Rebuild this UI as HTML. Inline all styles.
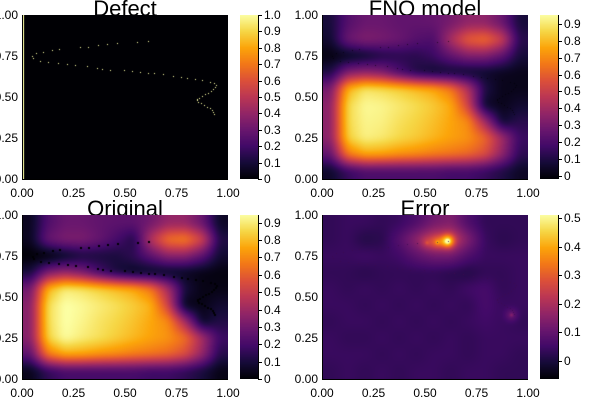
<!DOCTYPE html>
<html><head><meta charset="utf-8">
<style>
body{margin:0;background:#fff;width:600px;height:400px;overflow:hidden;font-family:"Liberation Sans","DejaVu Sans",sans-serif;}
#root{position:relative;width:600px;height:400px;}
.t{position:absolute;font-size:12px;color:#000;white-space:nowrap;line-height:12px;}
.title{position:absolute;font-size:22px;white-space:nowrap;line-height:22px;}
canvas{position:absolute;}
.ax{position:absolute;background:#000;}
</style></head>
<body><div id="root"></div>
<script>
// ---- data ----
const origGrid = [
[0.05,0.22,0.28,0.28,0.26,0.25,0.25,0.3,0.38,0.38,0.28,0.06],
[0.05,0.27,0.32,0.32,0.27,0.2,0.12,0.45,0.65,0.68,0.52,0.12],
[0.0,0.0,0.05,0.1,0.1,0.1,0.15,0.25,0.35,0.35,0.25,0.08],
[0.1,0.32,0.38,0.32,0.2,0.1,0.05,0.05,0.05,0.05,0.03,0.02],
[0.3,0.78,0.9,0.88,0.84,0.8,0.76,0.66,0.42,0.1,0.03,0.03],
[0.35,0.86,0.95,0.93,0.9,0.87,0.83,0.78,0.52,0.04,0.03,0.08],
[0.35,0.86,0.95,0.92,0.88,0.85,0.81,0.76,0.7,0.42,0.06,0.12],
[0.35,0.84,0.94,0.9,0.87,0.83,0.79,0.75,0.72,0.64,0.42,0.18],
[0.25,0.66,0.76,0.75,0.72,0.7,0.67,0.65,0.62,0.55,0.38,0.13],
[0.04,0.15,0.2,0.2,0.2,0.2,0.2,0.18,0.18,0.15,0.1,0.03]];
const fnoGrid = [
[0.08,0.22,0.27,0.27,0.25,0.25,0.26,0.3,0.36,0.36,0.27,0.08],
[0.06,0.27,0.32,0.3,0.27,0.22,0.2,0.42,0.6,0.64,0.5,0.12],
[0.0,0.02,0.05,0.1,0.12,0.12,0.16,0.25,0.32,0.32,0.24,0.08],
[0.1,0.32,0.36,0.32,0.2,0.1,0.06,0.06,0.05,0.05,0.03,0.02],
[0.3,0.78,0.89,0.87,0.84,0.8,0.76,0.66,0.44,0.1,0.02,0.02],
[0.35,0.86,0.94,0.93,0.9,0.87,0.83,0.77,0.52,0.05,0.02,0.06],
[0.35,0.86,0.93,0.92,0.88,0.85,0.81,0.76,0.7,0.4,0.06,0.12],
[0.35,0.84,0.92,0.9,0.86,0.83,0.79,0.75,0.72,0.62,0.4,0.16],
[0.25,0.66,0.76,0.75,0.72,0.7,0.67,0.65,0.62,0.55,0.36,0.13],
[0.05,0.15,0.2,0.2,0.2,0.2,0.2,0.18,0.18,0.15,0.1,0.04]];
const errGrid = [
[0.03,0.04,0.04,0.03,0.04,0.07,0.12,0.14,0.07,0.03,0.03,0.03],
[0.03,0.04,0.01,0.02,0.08,0.16,0.24,0.26,0.14,0.04,0.02,0.03],
[0.04,0.04,0.05,0.04,0.05,0.09,0.12,0.12,0.07,0.04,0.04,0.04],
[0.03,0.03,0.02,0.03,0.03,0.03,0.03,0.02,0.01,0.03,0.03,0.04],
[0.04,0.03,0.04,0.03,0.04,0.03,0.04,0.03,0.05,0.06,0.03,0.04],
[0.04,0.04,0.03,0.04,0.03,0.04,0.03,0.04,0.03,0.06,0.04,0.04],
[0.03,0.04,0.04,0.03,0.04,0.03,0.04,0.03,0.04,0.05,0.04,0.03],
[0.04,0.03,0.03,0.04,0.03,0.04,0.03,0.04,0.03,0.04,0.04,0.04],
[0.04,0.04,0.04,0.03,0.04,0.03,0.04,0.04,0.03,0.04,0.04,0.03],
[0.03,0.04,0.03,0.04,0.03,0.04,0.04,0.03,0.04,0.04,0.03,0.03]];
const errPeaksX = [0.61,0.56,0.51,0.92];
const errPeaksY = [0.84,0.833,0.83,0.39];
const errPeaksV = [0.25,0.1,0.05,0.06];
const defectX = [0.61,0.56,0.46,0.414,0.37,0.322,0.281,0.181,0.144,0.104,0.068,0.047,0.055,0.087,0.128,0.176,0.217,0.257,0.317,0.362,0.387,0.427,0.495,0.535,0.573,0.61,0.641,0.686,0.735,0.77,0.799,0.84,0.872,0.913,0.93,0.942,0.936,0.929,0.917,0.905,0.889,0.872,0.86,0.848,0.85,0.856,0.868,0.883,0.898,0.913,0.922,0.929,0.934];
const defectY = [0.839,0.833,0.827,0.821,0.815,0.807,0.803,0.795,0.787,0.774,0.766,0.752,0.736,0.722,0.715,0.709,0.703,0.695,0.687,0.679,0.673,0.667,0.663,0.659,0.654,0.648,0.644,0.638,0.63,0.624,0.618,0.612,0.606,0.593,0.583,0.573,0.56,0.547,0.536,0.526,0.516,0.506,0.496,0.486,0.479,0.472,0.462,0.452,0.441,0.431,0.421,0.411,0.397];
const axisTicks = ["0.00","0.25","0.50","0.75","1.00"];
const cbTicks1 = ["0","0.1","0.2","0.3","0.4","0.5","0.6","0.7","0.8","0.9","1.0"];
const cbTicks9 = ["0","0.1","0.2","0.3","0.4","0.5","0.6","0.7","0.8","0.9"];
const cbTicksErr = ["0","0.1","0.2","0.3","0.4","0.5"];

// ---- colormap ----
const inf=[[0,0,4],[22,11,57],[66,10,104],[106,23,110],[147,38,103],[188,55,84],[221,81,58],[243,120,25],[252,165,10],[246,215,70],[252,255,164]];
function cmap(t){t=Math.max(0,Math.min(1,t))*10;const i=Math.min(9,Math.floor(t)),f=t-i;const a=inf[i],b=inf[i+1];return [a[0]+(b[0]-a[0])*f,a[1]+(b[1]-a[1])*f,a[2]+(b[2]-a[2])*f];}
function cmapCss(t){const c=cmap(t);return `rgb(${c[0]|0},${c[1]|0},${c[2]|0})`;}
const root=document.getElementById('root');
const PW=206,PH=164;
function sample(g,x,y){const R=g.length,C=g[0].length;let cx=x*C-0.5,cy=(1-y)*R-0.5;cx=Math.max(0,Math.min(C-1,cx));cy=Math.max(0,Math.min(R-1,cy));const i=Math.min(C-2,Math.floor(cx)),j=Math.min(R-2,Math.floor(cy));const fx=cx-i,fy=cy-j;return g[j][i]*(1-fx)*(1-fy)+g[j][i+1]*fx*(1-fy)+g[j+1][i]*(1-fx)*fy+g[j+1][i+1]*fx*fy;}
function blur(f,r){const o=new Float32Array(f.length);
  for(let y=0;y<PH;y++)for(let x=0;x<PW;x++){let s=0,n=0;for(let k=-r;k<=r;k++){const xx=Math.max(0,Math.min(PW-1,x+k));s+=f[y*PW+xx];n++;}o[y*PW+x]=s/n;}
  const o2=new Float32Array(f.length);
  for(let y=0;y<PH;y++)for(let x=0;x<PW;x++){let s=0,n=0;for(let k=-r;k<=r;k++){const yy=Math.max(0,Math.min(PH-1,y+k));s+=o[yy*PW+x];n++;}o2[y*PW+x]=s/n;}
  return o2;}
function field(g){let f=new Float32Array(PW*PH);for(let py=0;py<PH;py++)for(let px=0;px<PW;px++)f[py*PW+px]=g?sample(g,(px+0.5)/PW,1-(py+0.5)/PH):0;
  if(g){f=blur(f,4);f=blur(f,3);}return f;}
function addText(txt,x,y,cls,align,name){const d=document.createElement('div');d.className=cls;d.textContent=txt;d.style.top=y+'px';


if(align==='r'){d.style.right=(600-x)+'px';}else if(align==='c'){d.style.left=x+'px';d.style.transform='translateX(-50%)';}else d.style.left=x+'px';root.appendChild(d);return d;}
function panel(ox,oy,title,f,vmin,vmax,ticks,tickStep,dotColor,dotSize,key){
  const tt=addText(title,ox+103,oy-17,'title','c',key+'-title');tt.style.zIndex=0;
  const cv=document.createElement('canvas');cv.width=PW;cv.height=PH;cv.style.left=ox+'px';cv.style.top=oy+'px';cv.style.zIndex=1;
  
  
  root.appendChild(cv);const ctx=cv.getContext('2d');const im=ctx.createImageData(PW,PH);
  for(let p=0;p<PW*PH;p++){const c=cmap((f[p]-vmin)/(vmax-vmin));im.data[p*4]=c[0];im.data[p*4+1]=c[1];im.data[p*4+2]=c[2];im.data[p*4+3]=255;}
  ctx.putImageData(im,0,0);
  if(dotColor){ctx.fillStyle=dotColor;for(let i=0;i<defectX.length;i++){ctx.fillRect(Math.round(defectX[i]*PW),Math.round((1-defectY[i])*PH),dotSize,dotSize);}}
  if(key==='defect'){ctx.fillStyle=cmapCss(1);ctx.fillRect(0,0,2,PH);}
  const la=document.createElement('div');la.className='ax';la.style.cssText+=`left:${ox}px;top:${oy}px;width:1px;height:${PH}px;z-index:2`;
  
  
  root.appendChild(la);
  const ba=document.createElement('div');ba.className='ax';ba.style.cssText+=`left:${ox}px;top:${oy+PH}px;width:${PW}px;height:1px;z-index:2`;
  
  
  root.appendChild(ba);
  axisTicks.forEach((t,i)=>{addText(t,ox+i*PW/4,oy+PH+8,'t','c',key+'-x-tick');addText(t,ox-4,oy+PH-i*PH/4-6,'t','r',key+'-y-tick');});
  const cx=ox+218,cw=18;const cb=document.createElement('canvas');cb.width=cw;cb.height=PH;cb.style.left=cx+'px';cb.style.top=oy+'px';
  
  
  root.appendChild(cb);const c2=cb.getContext('2d');
  for(let py=0;py<PH;py++){const v=vmax-(py+0.5)/PH*(vmax-vmin);c2.fillStyle=cmapCss((v-vmin)/(vmax-vmin));c2.fillRect(0,py,cw,1);}
  const cl=document.createElement('div');cl.className='ax';cl.style.cssText+=`left:${cx+cw}px;top:${oy}px;width:1px;height:${PH}px`;
  
  
  root.appendChild(cl);
  ticks.forEach((t,i)=>{const v=i*tickStep;const y=oy+PH-(v-vmin)/(vmax-vmin)*PH;
    const tk=document.createElement('div');tk.className='ax';tk.style.cssText+=`left:${cx+cw}px;top:${y}px;width:4px;height:1px`;
    
    
    root.appendChild(tk);addText(t,cx+cw+6,y-6,'t','l',key+'-colorbar-label');});
}
const errF=field(errGrid);
for(let py=0;py<PH;py++)for(let px=0;px<PW;px++){const x=(px+0.5)/PW,y=1-(py+0.5)/PH;
  for(let i=0;i<errPeaksX.length;i++){const dx=(x-errPeaksX[i])*PW,dy=(y-errPeaksY[i])*PH;const d2=dx*dx+dy*dy;errF[py*PW+px]+=errPeaksV[i]*Math.exp(-d2/40)+errPeaksV[i]*0.8*Math.exp(-d2/3);}}
panel(22,15,'Defect',field(null),0,1,cbTicks1,0.1,cmapCss(1),1,'defect');
panel(322,15,'FNO model',field(fnoGrid),-0.02,0.954,cbTicks9,0.1,'rgba(0,0,4,0.6)',1,'fno');
panel(22,215,'Original',field(origGrid),0,0.944,cbTicks9,0.1,'#000004',2,'original');
panel(322,215,'Error',errF,-0.063,0.511,cbTicksErr,0.1,'rgba(60,10,80,0.8)',1,'error');
</script></body></html>
